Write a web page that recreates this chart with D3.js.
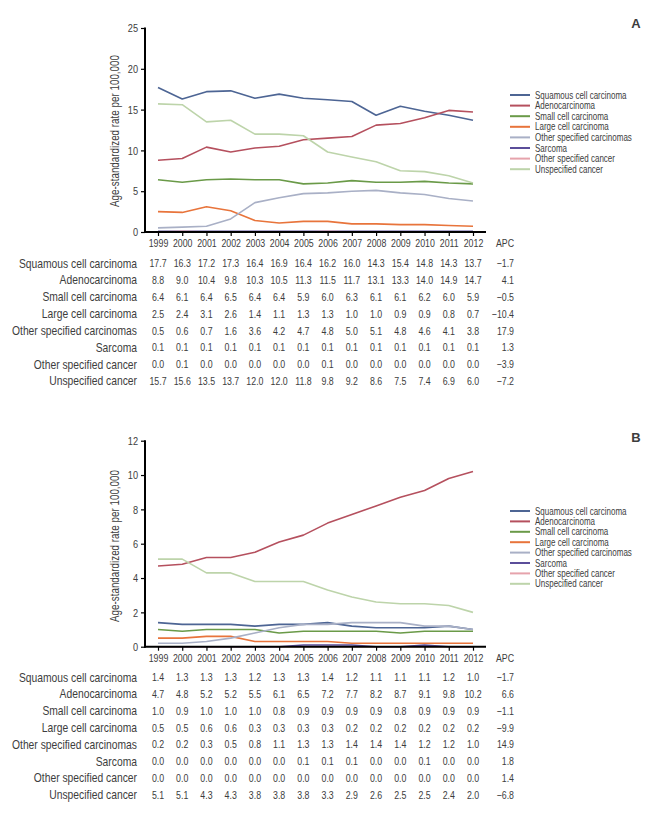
<!DOCTYPE html>
<html>
<head>
<meta charset="utf-8">
<script src="https://cdn.jsdelivr.net/npm/d3@7/dist/d3.min.js"></script>
<style>
  html, body { margin: 0; padding: 0; background: #fff; }
  svg { display: block; }
  text { font-family: "Liberation Sans", Arial, sans-serif; fill: #3d3d3d; }
</style>
</head>
<body>
<svg id="chart" width="655" height="815"></svg>
<script>
const years = [1999, 2000, 2001, 2002, 2003, 2004, 2005, 2006, 2007, 2008, 2009, 2010, 2011, 2012];
const categories = ["Squamous cell carcinoma", "Adenocarcinoma", "Small cell carcinoma", "Large cell carcinoma",
  "Other specified carcinomas", "Sarcoma", "Other specified cancer", "Unspecified cancer"];
const colors = ["#4d6594", "#b5505e", "#6a9a48", "#e8743b", "#a9b0c6", "#5b4e9a", "#e6a3ac", "#bdd4aa"];

// Panel A
const squamousA = [17.7, 16.3, 17.2, 17.3, 16.4, 16.9, 16.4, 16.2, 16.0, 14.3, 15.4, 14.8, 14.3, 13.7];
const adenoA    = [8.8, 9.0, 10.4, 9.8, 10.3, 10.5, 11.3, 11.5, 11.7, 13.1, 13.3, 14.0, 14.9, 14.7];
const smallA    = [6.4, 6.1, 6.4, 6.5, 6.4, 6.4, 5.9, 6.0, 6.3, 6.1, 6.1, 6.2, 6.0, 5.9];
const largeA    = [2.5, 2.4, 3.1, 2.6, 1.4, 1.1, 1.3, 1.3, 1.0, 1.0, 0.9, 0.9, 0.8, 0.7];
const otherCarcA = [0.5, 0.6, 0.7, 1.6, 3.6, 4.2, 4.7, 4.8, 5.0, 5.1, 4.8, 4.6, 4.1, 3.8];
const sarcomaA  = [0.1, 0.1, 0.1, 0.1, 0.1, 0.1, 0.1, 0.1, 0.1, 0.1, 0.1, 0.1, 0.1, 0.1];
const otherCancerA = [0.0, 0.1, 0.0, 0.0, 0.0, 0.0, 0.0, 0.1, 0.0, 0.0, 0.0, 0.0, 0.0, 0.0];
const unspecA   = [15.7, 15.6, 13.5, 13.7, 12.0, 12.0, 11.8, 9.8, 9.2, 8.6, 7.5, 7.4, 6.9, 6.0];
const apcA = [-1.7, 4.1, -0.5, -10.4, 17.9, 1.3, -3.9, -7.2];
const yTicksA = [0, 5, 10, 15, 20, 25];

// Panel B
const squamousB = [1.4, 1.3, 1.3, 1.3, 1.2, 1.3, 1.3, 1.4, 1.2, 1.1, 1.1, 1.1, 1.2, 1.0];
const adenoB    = [4.7, 4.8, 5.2, 5.2, 5.5, 6.1, 6.5, 7.2, 7.7, 8.2, 8.7, 9.1, 9.8, 10.2];
const smallB    = [1.0, 0.9, 1.0, 1.0, 1.0, 0.8, 0.9, 0.9, 0.9, 0.9, 0.8, 0.9, 0.9, 0.9];
const largeB    = [0.5, 0.5, 0.6, 0.6, 0.3, 0.3, 0.3, 0.3, 0.2, 0.2, 0.2, 0.2, 0.2, 0.2];
const otherCarcB = [0.2, 0.2, 0.3, 0.5, 0.8, 1.1, 1.3, 1.3, 1.4, 1.4, 1.4, 1.2, 1.2, 1.0];
const sarcomaB  = [0.0, 0.0, 0.0, 0.0, 0.0, 0.0, 0.1, 0.1, 0.1, 0.0, 0.0, 0.1, 0.0, 0.0];
const otherCancerB = [0.0, 0.0, 0.0, 0.0, 0.0, 0.0, 0.0, 0.0, 0.0, 0.0, 0.0, 0.0, 0.0, 0.0];
const unspecB   = [5.1, 5.1, 4.3, 4.3, 3.8, 3.8, 3.8, 3.3, 2.9, 2.6, 2.5, 2.5, 2.4, 2.0];
const apcB = [-1.7, 6.6, -1.1, -9.9, 14.9, 1.8, 1.4, -6.8];
const yTicksB = [0, 2, 4, 6, 8, 10, 12];

const seriesA = [squamousA, adenoA, smallA, largeA, otherCarcA, sarcomaA, otherCancerA, unspecA];
const seriesB = [squamousB, adenoB, smallB, largeB, otherCarcB, sarcomaB, otherCancerB, unspecB];

const svg = d3.select("#chart");
const fmt = v => d3.format(".1f")(v).replace("-", "\u2212");

// condensed text helper (horizontal squeeze to mimic a condensed face)
function T(parent, x, y, s, size, anchor, sx, extra) {
  return parent.append("text")
    .attr("transform", `translate(${x},${y})${extra || ""} scale(${sx},1)`)
    .attr("text-anchor", anchor).attr("dy", "0.35em").attr("font-size", size).text(s);
}

function panel(opts) {
  const g = svg.append("g");
  const x = d3.scalePoint().domain(years).range([158, 473]);
  const y = d3.scaleLinear().domain([0, opts.yMax]).range([opts.y0, opts.yTop]);
  const axisX0 = 145, axisX1 = 486;
  const SX = 0.8;

  // y axis
  const yAxis = g.append("g").attr("transform", `translate(${axisX0},0)`)
    .call(d3.axisLeft(y).tickValues(opts.yTicks).tickSize(4).tickPadding(4).tickFormat(d3.format("d")));
  yAxis.select(".domain").remove();
  yAxis.selectAll(".tick line").attr("stroke", "#000").attr("stroke-width", 1.2);
  yAxis.selectAll(".tick text").attr("font-size", 11.5).attr("fill", "#3d3d3d")
    .style("font-family", '"Liberation Sans", Arial, sans-serif')
    .attr("x", -7 / SX).attr("transform", `scale(${SX},1)`);
  g.append("line").attr("x1", axisX0).attr("x2", axisX0)
    .attr("y1", y(opts.yMax) - 0.5).attr("y2", y(0) + 1)
    .attr("stroke", "#000").attr("stroke-width", 2);

  // lines
  const line = d3.line().x((d, i) => x(years[i])).y(d => y(d));
  opts.series.forEach((s, k) => {
    g.append("path").datum(s).attr("d", line)
      .attr("fill", "none").attr("stroke", colors[k]).attr("stroke-width", 1.6)
      .attr("stroke-linejoin", "round");
  });

  // x axis
  g.append("line").attr("x1", axisX0 - 1).attr("x2", axisX1)
    .attr("y1", y(0)).attr("y2", y(0)).attr("stroke", "#000").attr("stroke-width", 2);
  const xAxis = g.append("g").attr("transform", `translate(0,${y(0)})`)
    .call(d3.axisBottom(x).tickSize(4).tickPadding(3));
  xAxis.select(".domain").remove();
  xAxis.selectAll(".tick line").attr("stroke", "#000").attr("stroke-width", 1.2);
  xAxis.selectAll(".tick text").attr("font-size", 11).attr("fill", "#3d3d3d")
    .style("font-family", '"Liberation Sans", Arial, sans-serif')
    .attr("transform", `scale(${SX},1)`);
  T(g, 514, y(0) + 11.5, "APC", 11, "end", SX);

  // y label
  T(g, 115, opts.yLabelC, "Age-standardized rate per 100,000", 12, "middle", 0.82, " rotate(-90)");

  // panel letter
  g.append("text").attr("x", 636).attr("y", opts.letterY).attr("dy", "0.35em")
    .attr("text-anchor", "middle").attr("font-size", 13).attr("font-weight", "bold")
    .attr("fill", "#111").text(opts.letter);

  // legend
  const leg = g.append("g");
  categories.forEach((c, k) => {
    const ly = opts.legY0 + k * opts.legStep;
    leg.append("line").attr("x1", 510).attr("x2", 530).attr("y1", ly).attr("y2", ly)
      .attr("stroke", colors[k]).attr("stroke-width", 2);
    T(leg, 535, ly, c, 10, "start", 0.8);
  });

  // table
  const tbl = g.append("g");
  categories.forEach((c, k) => {
    const ty = opts.tblY0 + k * opts.tblStep;
    T(tbl, 137, ty, c, 12, "end", 0.86);
    opts.series[k].forEach((v, i) => {
      T(tbl, x(years[i]), ty, fmt(v), 11, "middle", SX);
    });
    T(tbl, 514, ty, fmt(opts.apc[k]), 11, "end", SX);
  });
}

panel({ series: seriesA, apc: apcA, yMax: 25, yTicks: yTicksA, y0: 232, yTop: 28,
  yLabelC: 131, letter: "A", letterY: 23, legY0: 95, legStep: 10.6, tblY0: 263.3, tblStep: 16.85 });
panel({ series: seriesB, apc: apcB, yMax: 12, yTicks: yTicksB, y0: 646.7, yTop: 440.7,
  yLabelC: 546, letter: "B", letterY: 437, legY0: 511, legStep: 10.4, tblY0: 677.3, tblStep: 16.8 });
</script>
</body>
</html>
